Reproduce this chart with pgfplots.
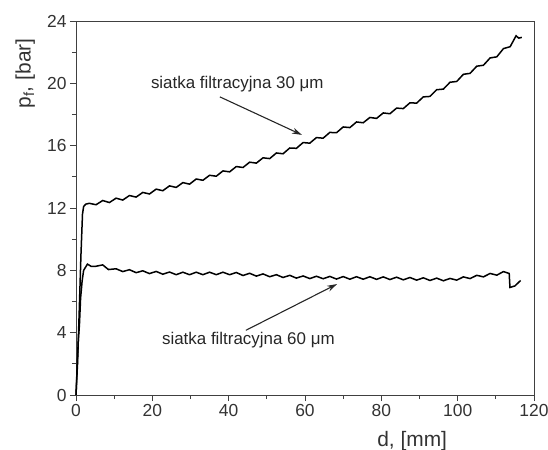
\documentclass[border=0pt]{standalone}
\usepackage{fontspec}
\setmainfont{Liberation Sans}
\usepackage{pgfplots}
\pgfplotsset{compat=1.18}
\usetikzlibrary{arrows.meta}
\begin{document}
\begin{tikzpicture}
\begin{axis}[
 name=ax,
 scale only axis, width=458bp, height=374bp,
 xmin=0, xmax=120, ymin=0, ymax=24,
 xtick={0,20,...,120}, ytick={0,4,...,24},
 minor x tick num=1, minor y tick num=1,
 tick align=outside, tick pos=left,
 major tick length=6bp, minor tick length=4bp,
 axis line style={draw=black!75, line width=0.9bp},
 every tick/.style={draw=black!75, line width=0.9bp},
 /pgf/number format/assume math mode=true,
 tick label style={font=\fontsize{17.5}{20}\selectfont, text=black!80},
 xlabel={d, [mm]}, ylabel={p\textsubscript{f}, [bar]},
 label style={font=\fontsize{21}{24}\selectfont, text=black!80},
 xlabel style={at={(axis description cs:0.734,-0.123)}, anchor=center},
 ylabel style={at={(axis description cs:-0.111,0.86)}, anchor=center, rotate=0},
 clip=false,
]
\addplot[black, line width=1.5bp] coordinates {
(0,0) (0.4,2) (0.8,5) (1.3,9) (1.7,11.6) (2.0,12.1) (2.6,12.25)
(3.5,12.30) (5.25,12.21) (7.0,12.48) (8.75,12.35) (10.5,12.63) (12.25,12.51)
(14.0,12.80) (15.75,12.70) (17.5,13.00) (19.25,12.90) (21.0,13.21) (22.75,13.11)
(24.5,13.42) (26.25,13.32) (28.0,13.63) (29.75,13.53) (31.5,13.86) (33.25,13.78)
(35.0,14.10) (36.75,14.04) (38.5,14.38) (40.25,14.32) (42.0,14.66) (43.75,14.60)
(45.5,14.94) (47.25,14.88) (49.0,15.22) (50.75,15.17) (52.5,15.53) (54.25,15.48)
(56.0,15.85) (57.75,15.83) (59.5,16.20) (61.25,16.16) (63.0,16.52) (64.75,16.48)
(66.5,16.85) (68.25,16.83) (70.0,17.20) (71.75,17.16) (73.5,17.52) (75.25,17.47)
(77.0,17.81) (78.75,17.75) (80.5,18.10) (82.25,18.05) (84.0,18.41) (85.75,18.38)
(87.5,18.75) (89.25,18.73) (91.0,19.13) (92.75,19.16) (94.5,19.59) (96.25,19.63)
(98.0,20.07) (99.75,20.12) (101.5,20.58) (103.25,20.64) (105.0,21.10) (106.75,21.16)
(108.5,21.63) (110.25,21.70) (112.0,22.23) (113.75,22.35) (115.3,23.05) (116.0,22.90)
(116.8,22.95)
};
\addplot[black, line width=1.5bp] coordinates {
(0,0) (0.3,1.8) (0.6,3.5) (0.9,4.5) (1.2,6.2) (1.6,7.3) (2.0,8.0) (3.0,8.4)
(4.0,8.25) (5.0,8.25) (6.0,8.3) (7.0,8.35) (8.5,8.05) (10.5,8.10) (12.25,7.92)
(14.0,8.04) (15.75,7.85) (17.5,7.97) (19.25,7.79) (21.0,7.93) (22.75,7.75)
(24.5,7.89) (26.25,7.72) (28.0,7.88) (29.75,7.72) (31.5,7.88) (33.25,7.72)
(35.0,7.88) (36.75,7.72) (38.5,7.88) (40.25,7.72) (42.0,7.86) (43.75,7.67)
(45.5,7.81) (47.25,7.63) (49.0,7.77) (50.75,7.59) (52.5,7.72) (54.25,7.54)
(56.0,7.68) (57.75,7.50) (59.5,7.64) (61.25,7.47) (63.0,7.62) (64.75,7.46)
(66.5,7.61) (68.25,7.44) (70.0,7.60) (71.75,7.43) (73.5,7.59) (75.25,7.43)
(77.0,7.59) (78.75,7.42) (80.5,7.58) (82.25,7.41) (84.0,7.56) (85.75,7.39)
(87.5,7.54) (89.25,7.37) (91.0,7.52) (92.75,7.35) (94.5,7.50) (96.25,7.33)
(98.0,7.48) (99.75,7.37) (101.5,7.58) (103.25,7.47) (105.0,7.68) (106.75,7.58)
(108.5,7.80) (110.25,7.69) (112.0,7.92) (113.5,7.80) (113.7,6.90) (115.0,7.0)
(116.5,7.35)
};
\node[anchor=base west, font=\fontsize{17}{20}\selectfont, text=black!85, inner sep=0pt]
  at (axis cs:19.6,19.70) {siatka filtracyjna 30 μm};
\node[anchor=base west, font=\fontsize{17}{20}\selectfont, text=black!85, inner sep=0pt]
  at (axis cs:22.5,3.21) {siatka filtracyjna 60 μm};
\draw[-{Stealth[length=10bp,width=6bp]}, line width=1.1bp, black!85]
  (axis cs:37.7,19.13) -- (axis cs:59.2,16.69);
\draw[-{Stealth[length=10bp,width=6bp]}, line width=1.1bp, black!85]
  (axis cs:44.5,4.15) -- (axis cs:68.4,7.12);
\end{axis}
\pgfresetboundingbox
\path[use as bounding box] ([shift={(-76bp,-55bp)}]ax.south west) rectangle ([shift={(14bp,21bp)}]ax.north east);
\end{tikzpicture}
\end{document}
